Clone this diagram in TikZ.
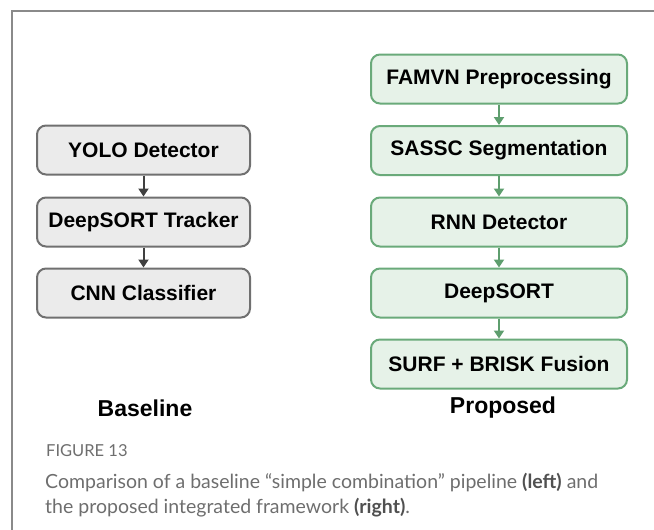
\documentclass[tikz,border=0pt]{standalone}
\usepackage{fontspec}
\setmainfont{Liberation Sans}
\newfontfamily\capfont{Lato}
\usetikzlibrary{arrows.meta}

\newlength{\du}
\setlength{\du}{1pt}

\definecolor{framegray}{HTML}{8A8A8A}
\definecolor{basefill}{HTML}{EBEBEB}
\definecolor{basedraw}{HTML}{707070}
\definecolor{basearrow}{HTML}{404040}
\definecolor{propfill}{HTML}{E6F2E8}
\definecolor{propdraw}{HTML}{6AAA7A}
\definecolor{proparrow}{HTML}{5E9E6E}
\definecolor{capgray}{HTML}{6E6E6E}
\definecolor{capdark}{HTML}{505050}

\tikzset{
  stagebox/.style={line width=2\du, rounded corners=9\du, minimum height=49\du,
    inner sep=0pt, font=\fontsize{21}{25}\selectfont\bfseries},
  basebox/.style={stagebox, draw=basedraw, fill=basefill, minimum width=213\du},
  propbox/.style={stagebox, draw=propdraw, fill=propfill, minimum width=256\du},
  baseflow/.style={draw=basearrow, line width=2\du, -{Triangle[length=8pt,width=10pt]}},
  propflow/.style={draw=proparrow, line width=2\du, -{Triangle[length=8pt,width=10pt]}},
  colhead/.style={font=\fontsize{23}{27}\selectfont\bfseries}
}

\begin{document}
\begin{tikzpicture}
\pgftransformyscale{-1.000000}
\useasboundingbox (0\du,0\du) rectangle (654\du,530\du);
% frame
\draw[framegray, line width=1.5\du] (12\du,530\du) -- (12\du,11\du) -- (654\du,11\du);
% baseline pipeline
\node[basebox] (yolo) at (143.5\du,150\du) {YOLO Detector};
\node[basebox] (dstrack) at (143.5\du,222\du) {DeepSORT Tracker};
\node[basebox] (cnn) at (143.5\du,293\du) {CNN Classifier};
\draw[baseflow] (yolo.south) -- (dstrack.north);
\draw[baseflow] (dstrack.south) -- (cnn.north);
\node[colhead] (baselbl) at (145\du,408\du) {Baseline};
% proposed pipeline
\node[propbox] (famvn) at (499\du,79\du) {FAMVN Preprocessing};
\node[propbox] (sassc) at (499\du,150.5\du) {SASSC Segmentation};
\node[propbox] (rnn) at (499\du,222\du) {RNN Detector};
\node[propbox] (dsort) at (499\du,293\du) {DeepSORT};
\node[propbox] (fusion) at (499\du,364\du) {SURF + BRISK Fusion};
\draw[propflow] (famvn.south) -- (sassc.north);
\draw[propflow] (sassc.south) -- (rnn.north);
\draw[propflow] (rnn.south) -- (dsort.north);
\draw[propflow] (dsort.south) -- (fusion.north);
\node[colhead] (proplbl) at (503\du,408\du) {Proposed};
% caption
\node[anchor=west, inner sep=0pt, text=capgray, font=\capfont\fontsize{16.5}{18}\selectfont] (fignum) at (46\du,451\du) {FIGURE 13};
\node[anchor=north west, inner sep=0pt, align=left, text=capgray,
  font=\capfont\fontsize{19.5}{25}\selectfont] (caption) at (45\du,473\du)
  {Comparison of a baseline “simple combination” pipeline \textcolor{capdark}{\textbf{(left)}} and\\
   the proposed integrated framework \textcolor{capdark}{\textbf{(right)}}.};
\end{tikzpicture}
\end{document}
